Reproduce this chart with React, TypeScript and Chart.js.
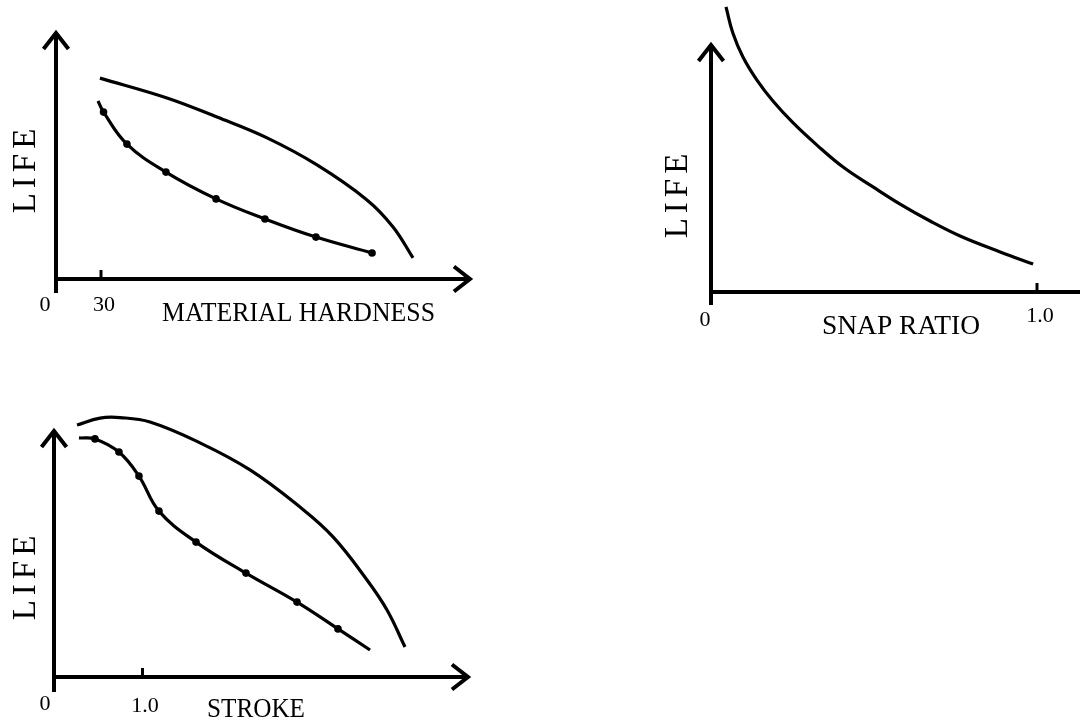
import React, { useEffect, useRef } from "react";
import { Chart, registerables } from "chart.js";

Chart.register(...registerables);

// ---------- Panel 1: LIFE vs MATERIAL HARDNESS ----------
const hardnessOuterX = [29.3, 74.0, 107.3, 140.7, 174.0, 207.3, 224.7, 238.0];
const hardnessOuterY = [81.0, 73.0, 65.3, 56.9, 46.0, 31.9, 21.0, 8.5];
const hardnessInnerX = [28.0, 31.7, 47.3, 73.3, 106.7, 139.3, 173.3, 210.7];
const hardnessInnerY = [71.8, 67.3, 54.4, 43.1, 32.3, 24.2, 16.9, 10.5];
const hardnessInnerMarked = [false, true, true, true, true, true, true, true];
const hardnessTicks = [30];
const hardnessTickLabels = ["30"];
const hardnessTitle = "MATERIAL HARDNESS";

// ---------- Panel 2: LIFE vs SNAP RATIO ----------
const snapX = [0.046, 0.067, 0.098, 0.141, 0.19, 0.252, 0.325, 0.405, 0.497, 0.58, 0.672, 0.764, 0.887, 0.988];
const snapY = [114.5, 104.0, 94.4, 85.1, 76.7, 67.9, 59.0, 50.2, 42.2, 35.3, 28.5, 22.5, 16.1, 11.2];
const snapTicks = [1.0];
const snapTickLabels = ["1.0"];
const snapTitle = "SNAP RATIO";

// ---------- Panel 3: LIFE vs STROKE ----------
const strokeOuterX = [0.26, 0.52, 0.746, 1.085, 1.65, 2.215, 2.78, 3.153, 3.537, 3.763, 3.966];
const strokeOuterY = [101.6, 104.4, 104.6, 102.8, 94.4, 83.5, 68.5, 56.5, 39.1, 27.0, 12.1];
const strokeInnerX = [0.282, 0.463, 0.734, 0.96, 1.186, 1.605, 2.169, 2.746, 3.209, 3.571];
const strokeInnerY = [96.4, 96.0, 90.7, 81.0, 66.9, 54.4, 41.9, 30.2, 19.4, 10.9];
const strokeInnerMarked = [false, true, true, true, true, true, true, true, true, false];
const strokeTicks = [1.0];
const strokeTickLabels = ["1.0"];
const strokeTitle = "STROKE";

const lifeLabel = "LIFE";
const originLabel = "0";

const W = 1080;
const H = 722;
const SERIF = "'Liberation Serif', 'Times New Roman', 'DejaVu Serif', serif";

type Series = { xs: number[]; ys: number[]; marked?: boolean[] };

type PanelCfg = {
  series: Series[];
  ox: number;
  oy: number;
  xPx: number;
  yPx: number;
  xMax: number;
  yMax: number;
  xEnd: number;
  yEnd: number;
  xArrow: boolean;
  yArrow: boolean;
  yBelow: number;
  ticks: number[];
  tickLabels: string[];
  tickLabelDx: number;
  tickLabelBase: number;
  zeroDx: number;
  zeroBase: number;
  title: string;
  titleCx: number;
  titleBase: number;
  titleWidth: number;
  lifeBaseX: number;
  lifeCy: number;
};

const panels: PanelCfg[] = [
  {
    series: [
      { xs: hardnessOuterX, ys: hardnessOuterY },
      { xs: hardnessInnerX, ys: hardnessInnerY, marked: hardnessInnerMarked },
    ],
    ox: 56, oy: 279, xPx: 1.5, yPx: 2.48, xMax: 280, yMax: 100,
    xEnd: 277.3, yEnd: 100, xArrow: true, yArrow: true, yBelow: 14,
    ticks: hardnessTicks, tickLabels: hardnessTickLabels, tickLabelDx: 3, tickLabelBase: 311,
    zeroDx: -11, zeroBase: 311,
    title: hardnessTitle, titleCx: 298.5, titleBase: 321, titleWidth: 273,
    lifeBaseX: 35, lifeCy: 171,
  },
  {
    series: [{ xs: snapX, ys: snapY }],
    ox: 711, oy: 292, xPx: 326, yPx: 2.49, xMax: 1.13, yMax: 100,
    xEnd: 1.15, yEnd: 100, xArrow: false, yArrow: true, yBelow: 13,
    ticks: snapTicks, tickLabels: snapTickLabels, tickLabelDx: 3, tickLabelBase: 322,
    zeroDx: -6, zeroBase: 326,
    title: snapTitle, titleCx: 901, titleBase: 334, titleWidth: 158,
    lifeBaseX: 687, lifeCy: 196,
  },
  {
    series: [
      { xs: strokeOuterX, ys: strokeOuterY },
      { xs: strokeInnerX, ys: strokeInnerY, marked: strokeInnerMarked },
    ],
    ox: 54, oy: 677, xPx: 88.5, yPx: 2.48, xMax: 4.75, yMax: 100,
    xEnd: 4.7, yEnd: 100, xArrow: true, yArrow: true, yBelow: 15,
    ticks: strokeTicks, tickLabels: strokeTickLabels, tickLabelDx: 2.5, tickLabelBase: 712,
    zeroDx: -9, zeroBase: 710,
    title: strokeTitle, titleCx: 256, titleBase: 717, titleWidth: 98,
    lifeBaseX: 35, lifeCy: 578,
  },
];

function makeSketchPlugin(cfg: PanelCfg) {
  return {
    id: "sketchAxes",
    afterDatasetsDraw(chart: any) {
      const ctx: CanvasRenderingContext2D = chart.ctx;
      const xs = chart.scales.x;
      const ys = chart.scales.y;
      const ox = xs.getPixelForValue(0);
      const oy = ys.getPixelForValue(0);
      const xTip = xs.getPixelForValue(cfg.xEnd);
      const yTip = ys.getPixelForValue(cfg.yEnd);
      ctx.save();
      ctx.strokeStyle = "#000";
      ctx.fillStyle = "#000";
      ctx.lineWidth = 4;
      ctx.lineCap = "butt";
      ctx.lineJoin = "miter";

      ctx.beginPath();
      ctx.moveTo(ox, oy + cfg.yBelow);
      ctx.lineTo(ox, yTip + 1);
      ctx.stroke();
      ctx.beginPath();
      ctx.moveTo(ox - 2, oy);
      ctx.lineTo(xTip - 1, oy);
      ctx.stroke();

      const L = 18;
      const Hw = 12.5;
      if (cfg.yArrow) {
        ctx.beginPath();
        ctx.moveTo(ox - Hw, yTip + L);
        ctx.lineTo(ox, yTip + 2);
        ctx.lineTo(ox + Hw, yTip + L);
        ctx.stroke();
      }
      if (cfg.xArrow) {
        ctx.beginPath();
        ctx.moveTo(xTip - L, oy - Hw);
        ctx.lineTo(xTip - 2, oy);
        ctx.lineTo(xTip - L, oy + Hw);
        ctx.stroke();
      }

      ctx.lineWidth = 3;
      ctx.font = `22px ${SERIF}`;
      ctx.textAlign = "center";
      ctx.textBaseline = "alphabetic";
      cfg.ticks.forEach((v, i) => {
        const px = xs.getPixelForValue(v);
        ctx.beginPath();
        ctx.moveTo(px, oy);
        ctx.lineTo(px, oy - 9);
        ctx.stroke();
        ctx.fillText(cfg.tickLabels[i], px + cfg.tickLabelDx, cfg.tickLabelBase);
      });
      ctx.fillText(originLabel, ox + cfg.zeroDx, cfg.zeroBase);

      ctx.font = `28px ${SERIF}`;
      ctx.fillText(cfg.title, cfg.titleCx, cfg.titleBase, cfg.titleWidth);

      ctx.save();
      ctx.translate(cfg.lifeBaseX, cfg.lifeCy);
      ctx.rotate(-Math.PI / 2);
      ctx.font = `33px ${SERIF}`;
      ctx.textAlign = "left";
      const gap = 5;
      const letters = lifeLabel.split("");
      const widths = letters.map((c) => ctx.measureText(c).width);
      const total = widths.reduce((a, b) => a + b, 0) + gap * (letters.length - 1);
      let x = -total / 2;
      letters.forEach((c, i) => {
        ctx.fillText(c, x, 0);
        x += widths[i] + gap;
      });
      ctx.restore();

      ctx.restore();
    },
  };
}

function Panel({ cfg }: { cfg: PanelCfg }) {
  const ref = useRef<HTMLCanvasElement>(null);
  useEffect(() => {
    const right = cfg.ox + cfg.xMax * cfg.xPx;
    const top = cfg.oy - cfg.yMax * cfg.yPx;
    const chart = new Chart(ref.current!, {
      type: "scatter",
      data: {
        datasets: cfg.series.map((s) => ({
          data: s.xs.map((x, i) => ({ x, y: s.ys[i] })),
          showLine: true,
          borderColor: "#000",
          borderWidth: 3.2,
          tension: 0.4,
          pointRadius: s.xs.map((_, i) => (s.marked && s.marked[i] ? 3.8 : 0)),
          pointBackgroundColor: "#000",
          pointBorderWidth: 0,
          clip: false as const,
        })),
      },
      options: {
        responsive: false,
        animation: false,
        events: [],
        layout: {
          padding: { left: cfg.ox, right: W - right, top, bottom: H - cfg.oy },
        },
        plugins: { legend: { display: false }, tooltip: { enabled: false } },
        scales: {
          x: { type: "linear", min: 0, max: cfg.xMax, display: false },
          y: { type: "linear", min: 0, max: cfg.yMax, display: false },
        },
      },
      plugins: [makeSketchPlugin(cfg)],
    });
    return () => chart.destroy();
  }, [cfg]);
  return (
    <canvas
      ref={ref}
      width={W}
      height={H}
      style={{ position: "absolute", left: 0, top: 0, width: W, height: H }}
    />
  );
}

export default function App() {
  return (
    <div style={{ position: "absolute", left: 0, top: 0, width: W, height: H, background: "#fff", overflow: "hidden" }}>
      {panels.map((p, i) => (
        <Panel key={i} cfg={p} />
      ))}
    </div>
  );
}
